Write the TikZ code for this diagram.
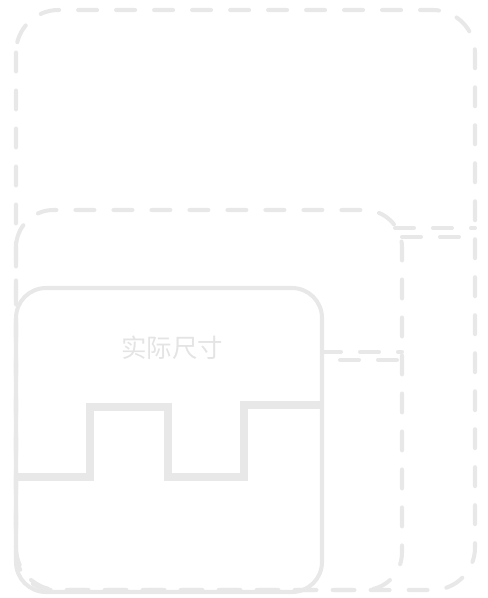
\documentclass[tikz,border=0pt]{standalone}
\usepackage{fontspec}
\newfontfamily\cjk{Noto Sans CJK SC}
\usepackage{xcolor}
\definecolor{framegray}{RGB}{232, 232, 232}
\definecolor{labelgray}{RGB}{228, 228, 228}
\usetikzlibrary{positioning, calc}

\begin{document}
\begin{tikzpicture}[
    x=0.02cm, y=-0.02cm,
    ghost/.style={draw=framegray, line width=2.3pt, line cap=round, dash pattern=on 0.38cm off 0.38cm},
    actual/.style={draw=framegray, line width=2.3pt},
    notch/.style={draw=framegray, line width=4.6pt, line join=miter},
    sizelabel/.style={text=labelgray, font=\cjk\fontsize{14.5}{16}\selectfont}
]
    \useasboundingbox (0,0) rectangle (487,598);

    % enlarged frames
    \draw[ghost, rounded corners=0.85cm] (16,10) rectangle (475,590);
    \draw[ghost, rounded corners=0.75cm] (16,210) rectangle (402,590);
    \draw[ghost] (395,228) -- (475,228);
    \draw[ghost] (402,237) -- (462,237);
    \draw[ghost] (322,352) -- (402,352);
    \draw[ghost] (340,360) -- (400,360);

    % actual size piece
    \draw[actual, rounded corners=0.6cm] (16,288) rectangle (322,592);
    \draw[notch] (16,477) -- (90,477) -- (90,407) -- (168,407) -- (168,477) -- (244,477) -- (244,405) -- (322,405);
    \node[sizelabel] (label) at (172,348) {实际尺寸};
\end{tikzpicture}
\end{document}
